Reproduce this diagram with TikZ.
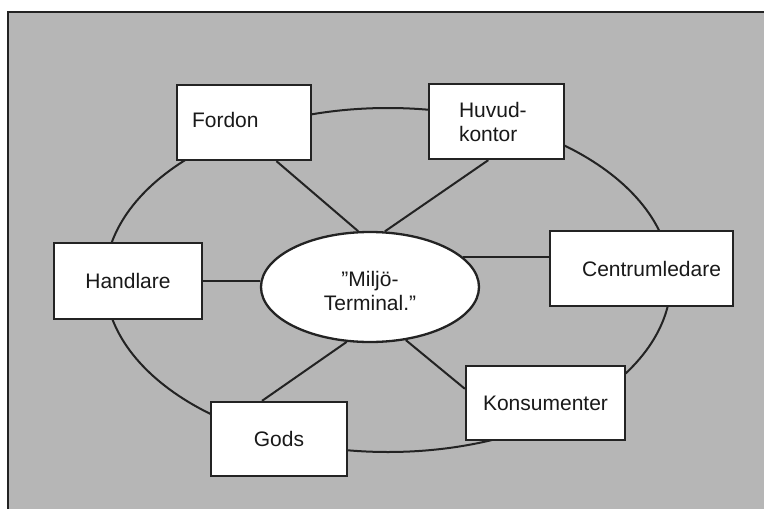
\documentclass[tikz,border=0pt]{standalone}
\usepackage{fontspec}
\setmainfont{Liberation Sans}
\usetikzlibrary{shapes.geometric}
\definecolor{bg}{RGB}{182,182,182}
\definecolor{ink}{RGB}{35,35,35}
\begin{document}
\begin{tikzpicture}[x=1pt,y=-1pt,
  box/.style={draw=ink, fill=white, line width=2.3pt, inner sep=0pt,
    font=\fontsize{21}{24}\selectfont, text=black!90},
  link/.style={draw=ink, line width=2pt}]
\useasboundingbox (0,0) rectangle (764,509);
\fill[white] (0,0) rectangle (764,509);
\fill[bg] (8,12) rectangle (764,509);
\draw[ink, line width=2pt] (8,509) -- (8,12) -- (764,12);
% outer ring
\node[ellipse, link, minimum width=566pt, minimum height=344pt, inner sep=0pt] (ring) at (388,280) {};
% boxes
\node[box, text width=104pt, inner xsep=15pt, align=left, minimum height=75pt] (fordon) at (244,122.5) {\raisebox{3pt}[\height][\depth]{Fordon}};
\node[box, text width=75pt, inner xsep=30pt, align=left, minimum height=75pt] (huvud) at (496.5,121.5) {Huvud-\\kontor};
\node[box, minimum width=148pt, minimum height=76pt] (handlare) at (128,281) {Handlare};
\node[box, text width=159pt, inner xsep=12pt, align=right, minimum height=75pt] (centrum) at (641.5,268.5) {Centrumledare};
\node[box, minimum width=159pt, minimum height=74pt] (kons) at (545.5,403) {Konsumenter};
\node[box, minimum width=136pt, minimum height=74pt] (gods) at (279,439) {Gods};
\node[box, ellipse, minimum width=218pt, minimum height=110pt] (mt) at (370,287)
  {\raisebox{-7pt}[\height][\depth]{\begin{tabular}{@{}c@{}}"Miljö-\\Terminal."\end{tabular}}};
% spokes
\draw[link] (fordon.-50) -- (mt.102);
\draw[link] (huvud.-102.5) -- (mt.75);
\draw[link] (mt.18) -- (mt.18 -| centrum.west);
\draw[link] (handlare.east) -- (handlare.east -| mt.west);
\draw[link] (gods.114.7) -- (mt.-113);
\draw[link] (kons.170) -- (mt.-56);
\end{tikzpicture}
\end{document}
